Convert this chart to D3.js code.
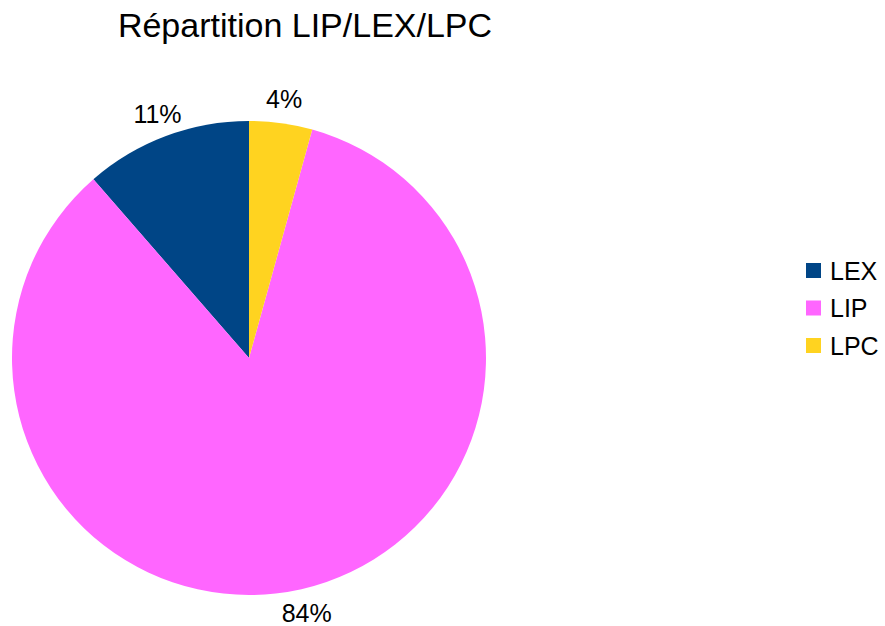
<!DOCTYPE html>
<html>
<head>
<meta charset="utf-8">
<script src="https://cdn.jsdelivr.net/npm/d3@7"></script>
<style>
  body { margin: 0; background: #fff; }
  text { font-family: "Liberation Sans", Arial, sans-serif; fill: #000; }
</style>
</head>
<body>
<div id="chart"></div>
<script>
// data
var categories = ['LEX', 'LIP', 'LPC'];
var values = [11.4, 84.3, 4.3];
var colors = ['#004586', '#ff66ff', '#ffd320'];
var title = 'Répartition LIP/LEX/LPC';

var width = 885;
var height = 626;
var cx = 249, cy = 358;
var radius = 237;
var labelRadius = 261;

var svg = d3.select('#chart')
    .append('svg')
    .attr('width', width)
    .attr('height', height);

svg.append('text')
    .attr('x', 305)
    .attr('y', 37)
    .attr('text-anchor', 'middle')
    .style('font-size', '34px')
    .text(title);

var total = d3.sum(values);
var color = d3.scaleOrdinal().domain(categories).range(colors);

// counterclockwise from 12 o'clock
var pie = d3.pie()
    .sort(null)
    .startAngle(0)
    .endAngle(-2 * Math.PI)
    .value(function(d, i) { return values[i]; });

var arcs = pie(categories);

var arc = d3.arc().innerRadius(0).outerRadius(radius);
var labelArc = d3.arc().innerRadius(labelRadius).outerRadius(labelRadius);

var plot = svg.append('g')
    .attr('transform', 'translate(' + cx + ',' + cy + ')');

plot.selectAll('path')
    .data(arcs)
    .enter()
    .append('path')
    .attr('d', arc)
    .style('fill', function(d) { return color(d.data); });

plot.selectAll('text.label')
    .data(arcs)
    .enter()
    .append('text')
    .attr('class', 'label')
    .attr('transform', function(d) { return 'translate(' + labelArc.centroid(d) + ')'; })
    .attr('text-anchor', 'middle')
    .attr('dominant-baseline', 'central')
    .style('font-size', '25px')
    .text(function(d) { return Math.round(d.value / total * 100) + '%'; });

// legend
var legend = svg.append('g')
    .attr('transform', 'translate(806,263)');

var item = legend.selectAll('g')
    .data(categories)
    .enter()
    .append('g')
    .attr('transform', function(d, i) { return 'translate(0,' + (i * 37.5) + ')'; });

item.append('rect')
    .attr('width', 15)
    .attr('height', 15)
    .style('fill', function(d) { return color(d); });

item.append('text')
    .attr('x', 24)
    .attr('y', 7.5)
    .attr('dominant-baseline', 'central')
    .style('font-size', '25px')
    .text(function(d) { return d; });
</script>
</body>
</html>
